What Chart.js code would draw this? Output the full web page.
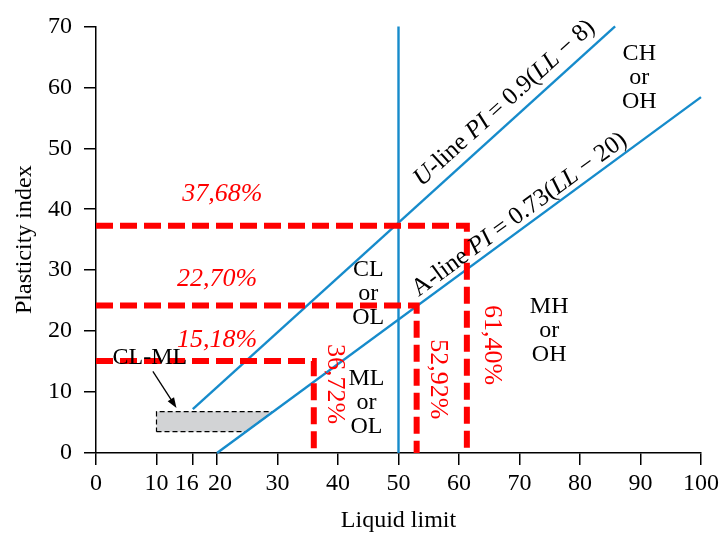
<!DOCTYPE html>
<html>
<head>
<meta charset="utf-8">
<script src="https://cdn.jsdelivr.net/npm/chart.js@4/dist/chart.umd.min.js"></script>
<style>
  body { margin: 0; background: #fff; }
  #wrap { width: 723px; height: 533px; }
</style>
</head>
<body>
<div id="wrap"><canvas id="chart" width="723" height="533"></canvas></div>
<script>
var xTicks = [0, 10, 16, 20, 30, 40, 50, 60, 70, 80, 90, 100];
var yTicks = [0, 10, 20, 30, 40, 50, 60, 70];

// chart lines (LL, PI)
var uLineLL = [16, 85.8];
var uLinePI = [7.2, 70];
var aLineLL = [20, 100];
var aLinePI = [0, 58.4];
var dividerLL = [50, 50];
var dividerPI = [0, 70];

// CL-ML band
var bandLL = [10, 24.8, 29.3, 10, 10];
var bandPI = [3.5, 3.5, 6.8, 6.8, 3.5];

// red guides
var guideLL = [61.3, 53.0, 36.0];
var guidePI = [37.3, 24.2, 15.1];
var guideTextH = ['37,68%', '22,70%', '15,18%'];
var guideTextHLL = [20.9, 20.0, 20.0];
var guideTextHPI = [42.5, 28.6, 18.5];
var guideTextV = ['61,40%', '52,92%', '36,72%'];
var guideTextVLL = [65.4, 56.5, 39.4];
var guideTextVPI = [17.7, 12.1, 11.3];

// zone labels
var zoneText = [['CL', 'or', 'OL'], ['ML', 'or', 'OL'], ['MH', 'or', 'OH'], ['CH', 'or', 'OH']];
var zoneLL = [45.0, 44.7, 74.9, 89.8];
var zonePI = [26.2, 8.3, 20.1, 61.5];

var FONT = '"Liberation Serif", "Times New Roman", serif';
var BLUE = '#168bcb';
var RED = '#ff0000';

function pts(xs, ys) {
  return xs.map(function (x, i) { return { x: x, y: ys[i] }; });
}

var datasets = [];
guideLL.forEach(function (ll, i) {
  datasets.push({
    data: pts([0, ll, ll], [guidePI[i], guidePI[i], 0]),
    borderColor: RED, borderWidth: 6, borderDash: [17, 7],
    pointRadius: 0, showLine: true, fill: false, tension: 0, clip: false
  });
});
[[uLineLL, uLinePI], [aLineLL, aLinePI], [dividerLL, dividerPI]].forEach(function (l) {
  datasets.push({
    data: pts(l[0], l[1]),
    borderColor: BLUE, borderWidth: 2.4,
    pointRadius: 0, showLine: true, fill: false, tension: 0, clip: false
  });
});
datasets.push({
  data: pts(bandLL, bandPI),
  borderColor: '#000', borderWidth: 1.2, borderDash: [5, 3],
  backgroundColor: '#d2d3d5', fill: 'shape',
  pointRadius: 0, showLine: true, tension: 0, clip: false
});

var labelPlugin = {
  id: 'labels',
  afterDatasetsDraw: function (chart) {
    var ctx = chart.ctx;
    var xs = chart.scales.x, ys = chart.scales.y;
    var px = function (v) { return xs.getPixelForValue(v); };
    var py = function (v) { return ys.getPixelForValue(v); };
    ctx.save();
    ctx.textAlign = 'center';
    ctx.textBaseline = 'middle';

    // red horizontal labels
    ctx.fillStyle = RED;
    ctx.font = 'italic 26px ' + FONT;
    guideTextH.forEach(function (t, i) {
      ctx.fillText(t, px(guideTextHLL[i]), py(guideTextHPI[i]));
    });
    // red vertical labels
    ctx.font = '26px ' + FONT;
    guideTextV.forEach(function (t, i) {
      ctx.save();
      ctx.translate(px(guideTextVLL[i]), py(guideTextVPI[i]));
      ctx.rotate(Math.PI / 2);
      ctx.fillText(t, 0, 0);
      ctx.restore();
    });

    // zone labels
    ctx.fillStyle = '#000';
    ctx.font = '24px ' + FONT;
    zoneText.forEach(function (lines, i) {
      var cx = px(zoneLL[i]), cy = py(zonePI[i]);
      lines.forEach(function (t, j) {
        ctx.fillText(t, cx, cy + (j - 1) * 24);
      });
    });

    // CL-ML label and arrow
    ctx.fillText('CL-ML', px(8.9), py(15.7));
    var x1 = px(9.4), y1 = py(13.4), x2 = px(13.3), y2 = py(7.4);
    var ang = Math.atan2(y2 - y1, x2 - x1);
    ctx.strokeStyle = '#000';
    ctx.lineWidth = 1.3;
    ctx.beginPath();
    ctx.moveTo(x1, y1);
    ctx.lineTo(x2 - 6 * Math.cos(ang), y2 - 6 * Math.sin(ang));
    ctx.stroke();
    ctx.beginPath();
    ctx.moveTo(x2, y2);
    ctx.lineTo(x2 - 11 * Math.cos(ang - 0.35), y2 - 11 * Math.sin(ang - 0.35));
    ctx.lineTo(x2 - 11 * Math.cos(ang + 0.35), y2 - 11 * Math.sin(ang + 0.35));
    ctx.closePath();
    ctx.fill();

    // rotated line labels with italic parts
    function rich(parts, ll, pi, lineLL, linePI) {
      var a = Math.atan2(py(linePI[1]) - py(linePI[0]), px(lineLL[1]) - px(lineLL[0]));
      var w = 0;
      parts.forEach(function (p) {
        ctx.font = (p[1] ? 'italic ' : '') + '25px ' + FONT;
        w += ctx.measureText(p[0]).width;
      });
      ctx.save();
      ctx.translate(px(ll), py(pi));
      ctx.rotate(a);
      ctx.textAlign = 'left';
      var cx = -w / 2;
      parts.forEach(function (p) {
        ctx.font = (p[1] ? 'italic ' : '') + '25px ' + FONT;
        ctx.fillText(p[0], cx, 0);
        cx += ctx.measureText(p[0]).width;
      });
      ctx.restore();
    }
    rich([['U', 1], ['-line ', 0], ['PI', 1], [' = 0.9(', 0], ['LL', 1], [' \u2212 8)', 0]], 67.5, 57.4, uLineLL, uLinePI);
    rich([['A-line ', 0], ['PI', 1], [' = 0.73(', 0], ['LL', 1], [' \u2212 20)', 0]], 70.0, 39.1, aLineLL, aLinePI);

    ctx.restore();
  }
};

var axisGrid = { display: true, drawOnChartArea: false, drawTicks: true, tickLength: 12, color: '#000', lineWidth: 1.5 };
var axisBorder = { display: true, color: '#000', width: 1.5 };

var chart = new Chart(document.getElementById('chart').getContext('2d'), {
  type: 'scatter',
  data: { datasets: datasets },
  options: {
    responsive: false,
    animation: false,
    layout: { padding: { left: 0, right: 18, top: 25, bottom: 0 } },
    plugins: { legend: { display: false }, tooltip: { enabled: false } },
    scales: {
      x: {
        type: 'linear', min: 0, max: 100,
        afterBuildTicks: function (s) { s.ticks = xTicks.map(function (v) { return { value: v }; }); },
        afterFit: function (s) { s.height = 80; },
        grid: axisGrid, border: axisBorder,
        ticks: {
          color: '#000', font: { family: FONT, size: 24 }, padding: 4, maxRotation: 0, autoSkip: false,
          // nudge the crowded 16 / 20 pair apart
          callback: function (v) { return v === 16 ? '16  ' : v === 20 ? ' 20' : String(v); }
        },
        title: { display: true, text: 'Liquid limit', color: '#000', font: { family: FONT, size: 24, lineHeight: 1 }, padding: { top: 0, bottom: 0 } }
      },
      y: {
        type: 'linear', min: 0, max: 70,
        afterBuildTicks: function (s) { s.ticks = yTicks.map(function (v) { return { value: v }; }); },
        afterFit: function (s) { s.width = 96; },
        grid: axisGrid, border: axisBorder,
        ticks: { color: '#000', font: { family: FONT, size: 24 }, padding: 12, autoSkip: false },
        title: { display: true, text: 'Plasticity index', color: '#000', font: { family: FONT, size: 24, lineHeight: 1 }, padding: { top: 13, bottom: 0 } }
      }
    }
  },
  plugins: [labelPlugin]
});
</script>
</body>
</html>
